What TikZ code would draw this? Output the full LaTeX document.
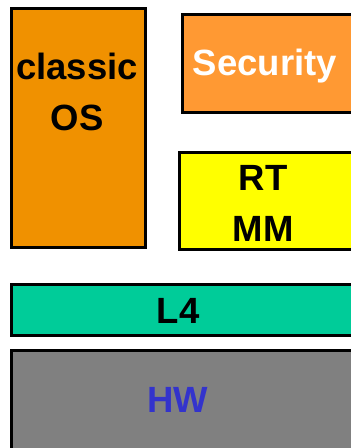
\documentclass[tikz,border=0pt]{standalone}
\usepackage{fontspec}
\setmainfont{Liberation Sans}
\usepackage{xcolor}
\usepackage{tikz}
\usetikzlibrary{positioning}

\definecolor{classicorange}{RGB}{240,145,0}
\definecolor{securityorange}{RGB}{255,153,51}
\definecolor{rtyellow}{RGB}{255,255,0}
\definecolor{kernelgreen}{RGB}{0,204,153}
\definecolor{hwgray}{RGB}{128,128,128}
\definecolor{hwblue}{RGB}{51,51,204}

\begin{document}
\begin{tikzpicture}[x=1pt, y=-1pt,
    layer/.style={draw, rectangle, black, line width=3pt, anchor=north west, inner sep=0pt},
    boxtext/.style={font=\fontsize{36.5}{51}\selectfont\bfseries, align=center, inner sep=0pt}]
                \useasboundingbox (0,0) rectangle (351,448);
                \clip (0,0) rectangle (351,448);
                \node[layer, fill=classicorange, minimum width=134pt, minimum height=239pt] (Classic) at (9.5,6.5) {};
                \node[layer, fill=securityorange, minimum width=200pt, minimum height=98pt] (Security) at (180.5,12.5) {};
                \node[layer, fill=rtyellow, minimum width=200pt, minimum height=97pt] (RTMM) at (177.5,150.5) {};
                \node[layer, fill=kernelgreen, minimum width=380pt, minimum height=51pt] (Kernel) at (9.5,282.5) {};
                \node[layer, fill=hwgray, minimum width=380pt, minimum height=150pt] (HW) at (9.5,348.5) {};
                \node[boxtext] (ClassicText) at (77,92) {classic\\OS};
                \node[boxtext, white, anchor=base] (SecurityText) at (265,75) {Security};
                \node[boxtext] (RTMMText) at (263,203) {RT\\MM};
                \node[boxtext, anchor=base] (KernelText) at (178,323) {L4};
                \node[boxtext, hwblue, anchor=base] (HWText) at (178,412) {HW};
            \end{tikzpicture}
\end{document}
